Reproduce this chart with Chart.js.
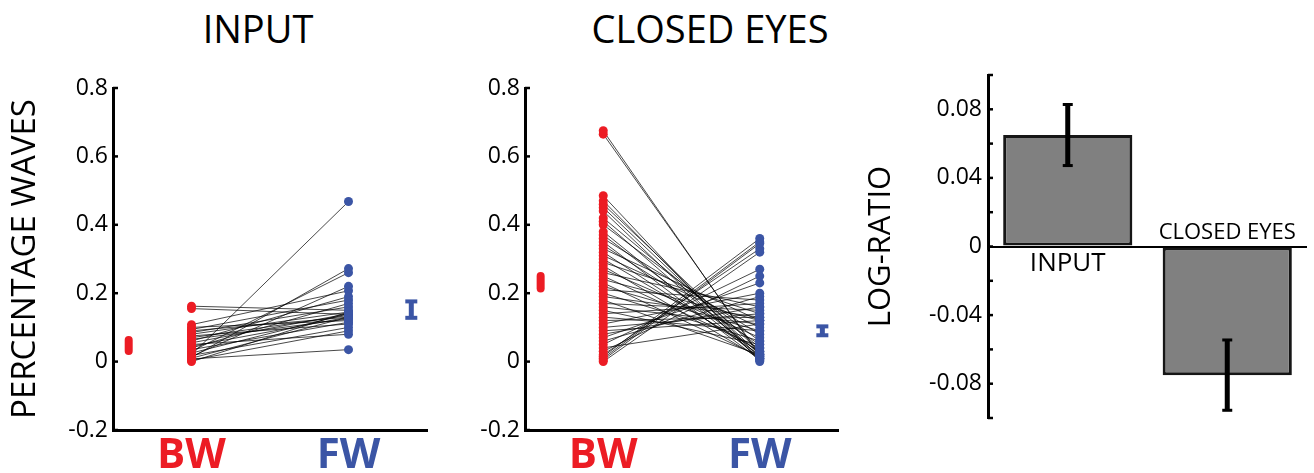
<!DOCTYPE html>
<html>
<head>
<meta charset="utf-8">
<script src="https://cdn.jsdelivr.net/npm/chart.js@4.4.0/dist/chart.umd.min.js"></script>
<style>
  body { margin: 0; background: #fff; width: 1314px; height: 473px; position: relative; overflow: hidden; font-family: 'Open Sans', sans-serif; }
  .panel { position: absolute; top: 0; height: 473px; }
  .title { position: absolute; top: 2px; font-size: 38px; color: #000; transform: translateX(-50%); white-space: nowrap; }
</style>
</head>
<body>
<div class="title" style="left:258px">INPUT</div>
<div class="title" style="left:710px">CLOSED EYES</div>
<div class="panel" style="left:0;width:440px"><canvas id="inputChart"></canvas></div>
<div class="panel" style="left:440px;width:420px"><canvas id="closedChart"></canvas></div>
<div class="panel" style="left:860px;width:454px"><canvas id="ratioChart"></canvas></div>

<script>
// percentage of waves per subject, backward (BW) vs forward (FW)
const inputBW = [0.155, 0.162, 0.108, 0.10, 0.094, 0.09, 0.085, 0.08, 0.075, 0.07, 0.065, 0.06, 0.055,
                 0.05, 0.045, 0.04, 0.035, 0.03, 0.025, 0.02, 0.018, 0.015, 0.012, 0.01, 0.008, 0.004, 0.0];
const inputFW = [0.138, 0.15, 0.207, 0.12, 0.18, 0.13, 0.16, 0.145, 0.11, 0.135, 0.125, 0.19, 0.14,
                 0.08, 0.13, 0.17, 0.115, 0.26, 0.14, 0.468, 0.10, 0.22, 0.272, 0.13, 0.035, 0.09, 0.145];

const closedBW = [0.665, 0.675, 0.47, 0.46, 0.45, 0.44, 0.42, 0.41, 0.40, 0.38, 0.37, 0.36, 0.35, 0.34, 0.33,
                  0.32, 0.31, 0.30, 0.29, 0.28, 0.27, 0.26, 0.25, 0.24, 0.23, 0.22, 0.21, 0.20, 0.19,
                  0.18, 0.17, 0.16, 0.15, 0.14, 0.13, 0.12, 0.11, 0.10, 0.09, 0.08, 0.07, 0.06,
                  0.05, 0.04, 0.03, 0.02, 0.015, 0.01, 0.005, 0.0, 0.485];
const closedFW = [0.02, 0.015, 0.01, 0.03, 0.02, 0.005, 0.04, 0.015, 0.06, 0.01, 0.025, 0.08, 0.005, 0.05, 0.12,
                  0.02, 0.10, 0.03, 0.14, 0.01, 0.07, 0.16, 0.04, 0.12, 0.015, 0.09, 0.18, 0.06, 0.13,
                  0.02, 0.15, 0.11, 0.05, 0.17, 0.09, 0.13, 0.20, 0.14, 0.12, 0.16, 0.23, 0.19,
                  0.27, 0.11, 0.25, 0.33, 0.36, 0.35, 0.345, 0.32, 0.0];

// group means with standard error
const inputMeans = [0.047, 0.152];
const inputSems = [0.016, 0.024];
const closedMeans = [0.232, 0.09];
const closedSems = [0.018, 0.013];

const waveTicks = [-0.2, 0, 0.2, 0.4, 0.6, 0.8];

// log-ratio bar chart
const conditions = ['INPUT', 'CLOSED EYES'];
const logRatio = [0.065, -0.075];
const logRatioErr = [0.0178, 0.0205];
const ratioTicks = [-0.1, -0.08, -0.06, -0.04, -0.02, 0, 0.02, 0.04, 0.06, 0.08, 0.1];
const ratioLabels = ['', '-0.08', '', '-0.04', '', '0', '', '0.04', '', '0.08', ''];

const RED = '#ec1c24';
const BLUE = '#3b55a5';
const FONT = "'Open Sans', sans-serif";

const innerTicks = {
    id: 'innerTicks',
    afterDraw(chart) {
        const y = chart.scales.y;
        const ctx = chart.ctx;
        const x0 = chart.chartArea.left;
        ctx.save();
        ctx.strokeStyle = '#000';
        ctx.lineWidth = 2.5;
        y.ticks.forEach(t => {
            const py = y.getPixelForValue(t.value);
            ctx.beginPath();
            ctx.moveTo(x0, py);
            ctx.lineTo(x0 + 5, py);
            ctx.stroke();
        });
        ctx.restore();
    }
};

function meanMarkers(means, sems) {
    return {
        id: 'meanMarkers',
        afterDatasetsDraw(chart) {
            const { ctx, scales: { x, y } } = chart;
            const spots = [{ at: 0.6, color: RED, caps: false }, { at: 2.4, color: BLUE, caps: true }];
            spots.forEach((s, i) => {
                const px = x.getPixelForValue(s.at);
                const top = y.getPixelForValue(means[i] + sems[i]);
                const bot = y.getPixelForValue(means[i] - sems[i]);
                ctx.save();
                ctx.strokeStyle = s.color;
                ctx.beginPath();
                ctx.moveTo(px, top);
                ctx.lineTo(px, bot);
                if (s.caps) {
                    ctx.lineWidth = 5;
                    ctx.stroke();
                    ctx.lineWidth = 4;
                    [top, bot].forEach(py => {
                        ctx.beginPath();
                        ctx.moveTo(px - 6, py);
                        ctx.lineTo(px + 6, py);
                        ctx.stroke();
                    });
                } else {
                    ctx.lineWidth = 8;
                    ctx.lineCap = 'round';
                    ctx.stroke();
                }
                ctx.restore();
            });
        }
    };
}

function makePairChart(id, bw, fw, means, sems, yTitle, yWidth, padRight) {
    const pairLines = bw.map((v, i) => ({
        data: [{ x: 1, y: v }, { x: 2, y: fw[i] }],
        showLine: true,
        borderColor: 'rgba(0,0,0,0.8)',
        borderWidth: 0.9,
        pointRadius: 0,
        order: 2
    }));

    return new Chart(document.getElementById(id), {
        type: 'scatter',
        data: {
            datasets: [
                { data: bw.map(v => ({ x: 1, y: v })), backgroundColor: RED, borderColor: RED, pointRadius: 4.5, borderWidth: 0, order: 1 },
                { data: fw.map(v => ({ x: 2, y: v })), backgroundColor: BLUE, borderColor: BLUE, pointRadius: 4.5, borderWidth: 0, order: 1 },
                ...pairLines
            ]
        },
        options: {
            responsive: true,
            maintainAspectRatio: false,
            animation: false,
            layout: { padding: { top: 88, right: padRight, left: 0, bottom: 0 } },
            plugins: { legend: { display: false }, tooltip: { enabled: false } },
            scales: {
                x: {
                    type: 'linear', min: 0.5, max: 2.5,
                    afterBuildTicks: s => { s.ticks = [{ value: 1 }, { value: 2 }]; },
                    afterFit: s => { s.height = 43; },
                    ticks: {
                        callback: v => (v === 1 ? 'BW' : v === 2 ? 'FW' : ''),
                        color: c => (c.tick && c.tick.value === 1 ? RED : BLUE),
                        font: { family: FONT, size: 42, weight: 'bold' },
                        padding: 1
                    },
                    grid: { display: false, drawTicks: false },
                    border: { display: true, color: '#000', width: 3 }
                },
                y: {
                    min: -0.2, max: 0.8,
                    afterBuildTicks: s => { s.ticks = waveTicks.map(v => ({ value: v })); },
                    afterFit: s => { s.width = yWidth; },
                    ticks: {
                        callback: v => String(v),
                        color: '#000',
                        font: { family: FONT, size: 23 },
                        padding: 5
                    },
                    grid: { display: false, drawTicks: false },
                    border: { display: true, color: '#000', width: 3 },
                    title: {
                        display: !!yTitle, text: yTitle, color: '#000',
                        font: { family: FONT, size: 33 }, padding: { top: 6, bottom: 0 }
                    }
                }
            }
        },
        plugins: [innerTicks, meanMarkers(means, sems)]
    });
}

makePairChart('inputChart', inputBW, inputFW, inputMeans, inputSems, 'PERCENTAGE WAVES', 113, 13);
makePairChart('closedChart', closedBW, closedFW, closedMeans, closedSems, '', 85, 22);

const barExtras = {
    id: 'barExtras',
    afterDatasetsDraw(chart) {
        const { ctx, scales: { y } } = chart;
        const bars = chart.getDatasetMeta(0).data;
        ctx.save();
        ctx.strokeStyle = '#000';
        bars.forEach((bar, i) => {
            const top = y.getPixelForValue(logRatio[i] + logRatioErr[i]);
            const bot = y.getPixelForValue(logRatio[i] - logRatioErr[i]);
            ctx.lineWidth = 5;
            ctx.beginPath();
            ctx.moveTo(bar.x, top);
            ctx.lineTo(bar.x, bot);
            ctx.stroke();
            ctx.lineWidth = 3;
            [top, bot].forEach(py => {
                ctx.beginPath();
                ctx.moveTo(bar.x - 5, py);
                ctx.lineTo(bar.x + 5, py);
                ctx.stroke();
            });
        });
        // condition names next to the zero line
        const zero = y.getPixelForValue(0);
        ctx.fillStyle = '#000';
        ctx.textAlign = 'center';
        bars.forEach((bar, i) => {
            if (logRatio[i] >= 0) {
                ctx.font = `26px ${FONT}`;
                ctx.textBaseline = 'top';
                ctx.fillText(conditions[i], bar.x, zero + 4);
            } else {
                ctx.font = `22px ${FONT}`;
                ctx.textBaseline = 'bottom';
                ctx.fillText(conditions[i], bar.x, zero - 3);
            }
        });
        ctx.restore();
    }
};

new Chart(document.getElementById('ratioChart'), {
    type: 'bar',
    data: {
        labels: conditions,
        datasets: [{
            data: logRatio,
            backgroundColor: '#808080',
            borderColor: '#161616',
            borderWidth: 3,
            borderSkipped: false,
            categoryPercentage: 1,
            barPercentage: 0.81
        }]
    },
    options: {
        responsive: true,
        maintainAspectRatio: false,
        animation: false,
        layout: { padding: { top: 75, right: 7, bottom: 55, left: 0 } },
        plugins: { legend: { display: false }, tooltip: { enabled: false } },
        scales: {
            x: { display: false },
            y: {
                min: -0.1, max: 0.1,
                afterBuildTicks: s => { s.ticks = ratioTicks.map(v => ({ value: v })); },
                afterFit: s => { s.width = 128; },
                ticks: {
                    callback: (v, i) => ratioLabels[i],
                    color: '#000',
                    font: { family: FONT, size: 23 },
                    padding: 6
                },
                grid: {
                    drawTicks: false,
                    color: c => (c.tick && Math.abs(c.tick.value) < 1e-9 ? '#000' : 'rgba(0,0,0,0)'),
                    lineWidth: 2
                },
                border: { display: true, color: '#000', width: 3 },
                title: {
                    display: true, text: 'LOG-RATIO', color: '#000',
                    font: { family: FONT, size: 31 }, padding: { top: 3, bottom: 0 }
                }
            }
        }
    },
    plugins: [innerTicks, barExtras]
});
</script>
</body>
</html>
